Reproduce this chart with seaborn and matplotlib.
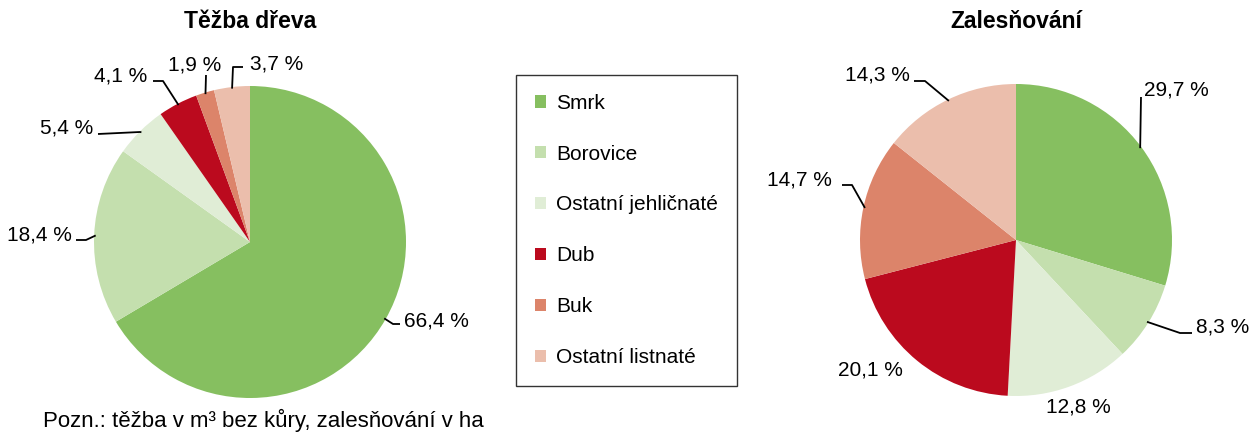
import numpy as np
import matplotlib
matplotlib.use('Agg')
import matplotlib.pyplot as plt
import seaborn as sns
from matplotlib.patches import Patch

# data
species = ['Smrk', 'Borovice', 'Ostatní jehličnaté', 'Dub', 'Buk', 'Ostatní listnaté']
tezba = [66.4, 18.4, 5.4, 4.1, 1.9, 3.7]
zalesnovani = [29.7, 8.3, 12.8, 20.1, 14.7, 14.3]
colors = ['#86BF60', '#C4DFAE', '#E0EDD6', '#BB0A1E', '#DC846A', '#EBBEAC']

sns.set_theme(style='white')
plt.rcParams['font.family'] = ['Liberation Sans', 'DejaVu Sans']
plt.rcParams['text.color'] = 'black'

W, H = 1250, 432
R = 156
FS = 15

# label placement relative to pie centre (px, y up): text x, text y, ha, leader [elbow, end]
layout_tezba = [
    (154, -79, 'left', [(143, -82), (150, -82)]),
    (-178, 7, 'right', [(-164, 2), (-174, 2)]),
    (-157, 114, 'right', [(-110, 110), (-152, 108)]),
    (-103, 166, 'right', [(-87, 161), (-97, 161)]),
    (-55, 177, 'center', [(-44, 167)]),
    (0, 178, 'left', [(-17, 175), (-7, 175)]),
]
layout_zal = [
    (128, 150, 'left', [(125, 143)]),
    (180, -87, 'left', [(164, -93), (176, -93)]),
    (62, -167, 'center', None),
    (-146, -130, 'center', None),
    (-184, 60, 'right', [(-164, 55), (-174, 55)]),
    (-106, 165, 'right', [(-91, 159), (-102, 159)]),
]

fig = plt.figure(figsize=(W / 100, H / 100), dpi=100)
ax = fig.add_axes([0, 0, 1, 1])


def draw_pie(values, center, title, layout):
    wedges, _ = ax.pie(values, colors=colors, startangle=90, counterclock=False,
                       center=center, radius=R, wedgeprops=dict(linewidth=0))
    for w, v, (tx, ty, ha, path) in zip(wedges, values, layout):
        label = f'{v:.1f} %'.replace('.', ',')
        ax.text(center[0] + tx, center[1] + ty, label, ha=ha, va='center',
                fontsize=FS, color='black')
        if path:
            mid = np.deg2rad((w.theta1 + w.theta2) / 2)
            xs = [center[0] + R * 0.99 * np.cos(mid)] + [center[0] + p[0] for p in path]
            ys = [center[1] + R * 0.99 * np.sin(mid)] + [center[1] + p[1] for p in path]
            ax.plot(xs, ys, color='black', lw=1.3, solid_capstyle='butt')
    ax.text(center[0], H - 22, title, ha='center', va='center',
            fontsize=16.5, fontweight='bold', color='black')


draw_pie(tezba, (250, H - 242), 'Těžba dřeva', layout_tezba)
draw_pie(zalesnovani, (1016, H - 240), 'Zalesňování', layout_zal)

ax.set_xlim(0, W)
ax.set_ylim(0, H)
ax.set_aspect('auto')
ax.axis('off')

handles = [Patch(facecolor=c, edgecolor='none', label=s) for s, c in zip(species, colors)]
leg = fig.legend(handles=handles, loc='upper left',
                 bbox_to_anchor=(516 / W, 1 - 75 / H, 221 / W, 0), mode='expand',
                 borderaxespad=0, fontsize=FS, frameon=True, fancybox=False,
                 handlelength=0.53, handleheight=0.53, handletextpad=0.48,
                 labelspacing=1.53, borderpad=0.9, labelcolor='black')
leg.get_frame().set_edgecolor('black')
leg.get_frame().set_linewidth(1.0)

fig.text(43 / W, 1 - 420 / H, 'Pozn.: těžba v m³ bez kůry, zalesňování v ha',
         fontsize=16, va='center', ha='left', color='black')

fig.savefig('out.png', dpi=100)
